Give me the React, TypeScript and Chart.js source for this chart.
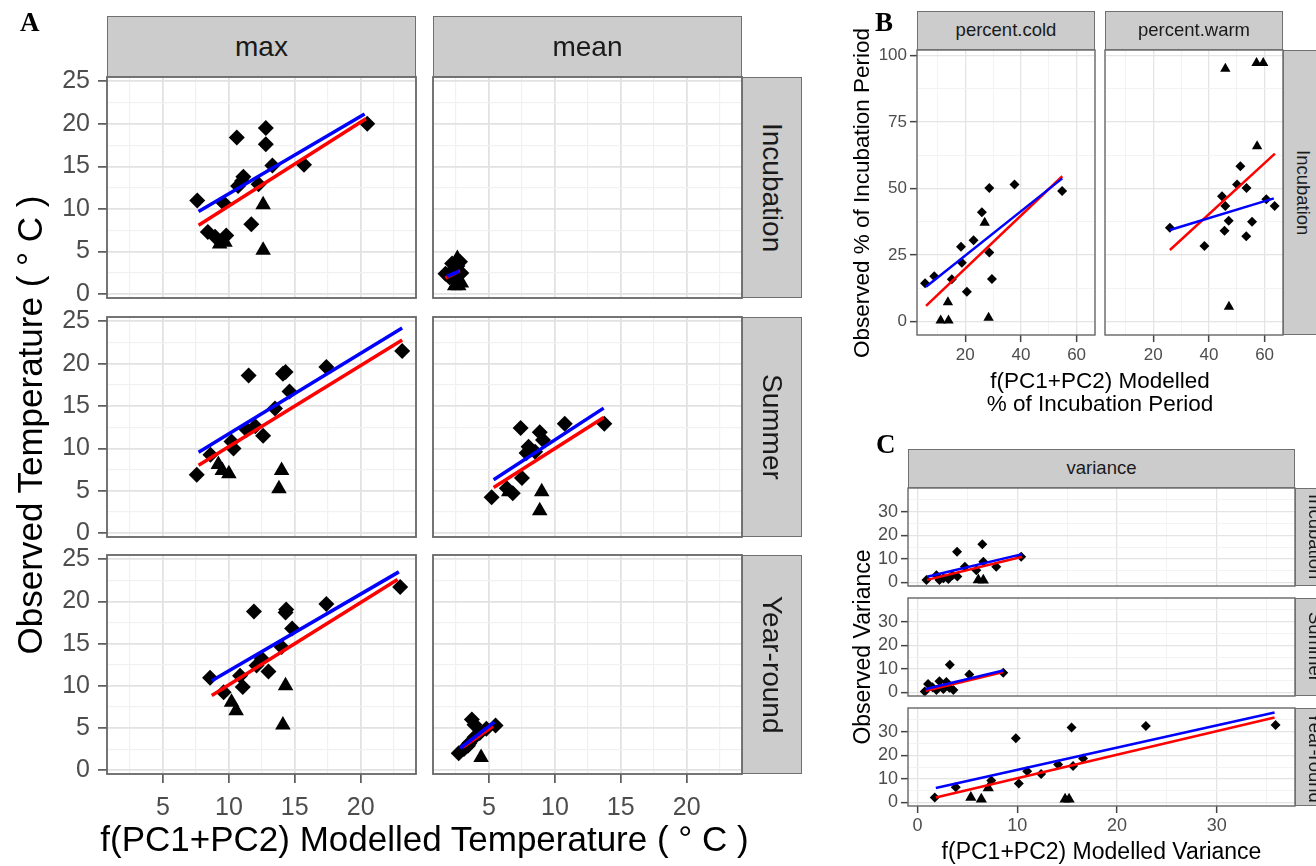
import React, { useEffect, useRef } from "react";
import { Chart, registerables } from "chart.js";

Chart.register(...registerables);

type XY = [number, number];
const SANS = '"Liberation Sans", Arial, Helvetica, sans-serif';
const SERIF = '"Liberation Serif", "Times New Roman", serif';

// ===== Panel A : temperature =====
const tempTicks = [0, 5, 10, 15, 20, 25];
const tempMinor = [2.5, 7.5, 12.5, 17.5, 22.5];
const modTempTicks = [5, 10, 15, 20];
const modTempMinor = [2.5, 7.5, 12.5, 17.5, 22.5];
const tempColumns = ["max", "mean"];
const tempRows = ["Incubation", "Summer", "Year-round"];

const maxIncDiamonds: XY[] = [[7.6, 11.0], [10.6, 18.4], [12.8, 19.5], [12.8, 17.6], [13.3, 15.1], [15.7, 15.2], [20.5, 20.0], [11.1, 13.8], [10.7, 12.7], [12.25, 12.9], [9.6, 10.7], [11.7, 8.2], [8.4, 7.3], [8.95, 6.75], [9.8, 6.9], [11.0, 13.3]];
const maxIncTriangles: XY[] = [[9.3, 5.9], [9.7, 6.1], [12.6, 10.5], [12.6, 5.15]];
const maxIncBlue: XY[] = [[7.7, 9.7], [20.3, 21.15]];
const maxIncRed: XY[] = [[7.7, 8.1], [20.4, 20.6]];

const meanIncDiamonds: XY[] = [[1.7, 2.4], [2.0, 2.0], [2.3, 2.9], [2.6, 3.3], [2.9, 2.5], [2.8, 3.8], [2.5, 2.2], [2.2, 3.6]];
const meanIncTriangles: XY[] = [[2.4, 1.0], [2.7, 1.0], [2.6, 4.2], [2.9, 1.3]];
const meanIncBlue: XY[] = [[1.8, 2.1], [2.75, 2.7]];
const meanIncRed: XY[] = [[1.7, 1.9], [2.8, 2.75]];

const maxSumDiamonds: XY[] = [[7.56, 6.9], [11.5, 18.6], [14.1, 18.8], [14.3, 19.0], [17.4, 19.6], [23.15, 21.5], [14.6, 16.7], [13.5, 14.7], [12.0, 12.6], [11.35, 12.2], [12.6, 11.5], [10.2, 10.8], [10.35, 10.0], [8.6, 9.25]];
const maxSumTriangles: XY[] = [[9.2, 8.1], [10.0, 7.0], [9.5, 7.4], [14.0, 7.4], [13.8, 5.25]];
const maxSumBlue: XY[] = [[7.7, 9.55], [23.15, 24.2]];
const maxSumRed: XY[] = [[7.7, 8.0], [23.15, 22.8]];

const meanSumDiamonds: XY[] = [[5.2, 4.25], [7.4, 12.4], [8.85, 11.9], [9.1, 11.0], [10.75, 12.9], [13.75, 12.9], [7.85, 9.45], [7.5, 6.5], [6.35, 5.3], [6.8, 4.7], [8.5, 9.6], [8.0, 10.2]];
const meanSumTriangles: XY[] = [[6.5, 4.9], [9.0, 4.9], [8.85, 2.65]];
const meanSumBlue: XY[] = [[5.35, 6.3], [13.7, 14.75]];
const meanSumRed: XY[] = [[5.35, 5.4], [13.7, 13.65]];

const maxYrDiamonds: XY[] = [[8.57, 10.95], [11.9, 18.8], [14.35, 19.05], [14.3, 18.7], [17.4, 19.7], [23.0, 21.7], [14.8, 16.8], [14.0, 14.6], [12.5, 13.2], [12.1, 12.4], [13.0, 11.7], [10.85, 11.2], [11.05, 9.85], [9.6, 9.25]];
const maxYrTriangles: XY[] = [[10.2, 8.05], [10.55, 7.05], [14.3, 10.0], [14.1, 5.35]];
const maxYrBlue: XY[] = [[8.7, 10.6], [22.9, 23.5]];
const maxYrRed: XY[] = [[8.7, 8.85], [22.8, 22.6]];

const meanYrDiamonds: XY[] = [[2.7, 2.0], [3.1, 2.5], [3.5, 3.2], [3.9, 3.9], [4.3, 4.4], [4.8, 4.9], [5.5, 5.3], [3.7, 6.0], [3.9, 5.4], [3.4, 2.9]];
const meanYrTriangles: XY[] = [[4.4, 1.5]];
const meanYrBlue: XY[] = [[2.8, 2.6], [5.4, 5.7]];
const meanYrRed: XY[] = [[3.0, 2.7], [5.3, 5.2]];

// ===== Panel B : % of incubation period =====
const pctTicks = [0, 25, 50, 75, 100];
const pctMinor = [12.5, 37.5, 62.5, 87.5];
const modPctTicks = [20, 40, 60];
const modPctMinor = [10, 30, 50];
const pctColumns = ["percent.cold", "percent.warm"];

const coldDiamonds: XY[] = [[5.6, 14.4], [8.9, 17.1], [15.2, 15.9], [18.8, 22.1], [18.5, 28.1], [23.0, 30.6], [20.6, 11.25], [26.0, 41.1], [28.65, 50.2], [28.65, 26.0], [29.6, 16.0], [37.7, 51.5], [54.8, 49.1]];
const coldTriangles: XY[] = [[27.0, 37.1], [13.8, 7.3], [11.2, 0.4], [14.0, 0.4], [28.4, 1.5]];
const coldBlue: XY[] = [[5.95, 13.1], [54.85, 53.8]];
const coldRed: XY[] = [[5.95, 5.9], [54.85, 54.6]];

const warmDiamonds: XY[] = [[26.0, 35.3], [38.4, 28.4], [44.7, 47.1], [45.9, 43.4], [45.6, 34.1], [47.1, 37.9], [50.1, 51.5], [51.3, 58.4], [53.5, 50.2], [53.4, 32.1], [55.5, 37.5], [60.6, 46.0], [63.6, 43.4]];
const warmTriangles: XY[] = [[45.9, 95.0], [57.1, 97.1], [59.5, 97.1], [57.3, 65.9], [47.2, 5.6]];
const warmBlue: XY[] = [[26.0, 34.4], [63.3, 46.3]];
const warmRed: XY[] = [[26.0, 26.9], [63.7, 63.1]];

// ===== Panel C : variance =====
const varTicks = [0, 10, 20, 30];
const varMinor = [5, 15, 25, 35];
const modVarTicks = [0, 10, 20, 30];
const modVarMinor = [5, 15, 25, 35];

const varIncDiamonds: XY[] = [[0.9, 1.0], [3.97, 13.0], [6.5, 16.2], [4.75, 6.6], [5.9, 5.2], [6.6, 8.8], [7.9, 6.6], [10.4, 10.9], [1.9, 3.1], [2.6, 1.8], [3.1, 1.5], [3.5, 3.0], [2.2, 1.0], [4.0, 2.5]];
const varIncTriangles: XY[] = [[6.1, 1.0], [6.6, 0.9]];
const varIncBlue: XY[] = [[0.96, 2.4], [10.5, 12.0]];
const varIncRed: XY[] = [[0.96, 1.1], [10.5, 10.9]];

const varSumDiamonds: XY[] = [[0.73, 0.4], [1.06, 3.6], [3.24, 11.7], [5.2, 7.6], [8.6, 8.3], [2.2, 4.7], [2.9, 4.4], [1.9, 1.0], [3.6, 1.0], [2.6, 1.5], [3.2, 2.0], [1.5, 2.2]];
const varSumTriangles: XY[] = [];
const varSumBlue: XY[] = [[0.83, 1.45], [8.6, 9.3]];
const varSumRed: XY[] = [[0.83, 0.7], [8.6, 8.6]];

const varYrDiamonds: XY[] = [[1.73, 2.1], [3.84, 6.4], [9.86, 27.2], [15.45, 31.7], [22.9, 32.4], [35.9, 32.8], [10.16, 8.0], [11.0, 13.2], [12.4, 12.1], [14.1, 16.1], [15.6, 15.4], [16.6, 18.6], [7.4, 9.3]];
const varYrTriangles: XY[] = [[5.35, 2.1], [6.4, 1.4], [7.1, 6.1], [14.8, 1.4], [15.2, 1.4]];
const varYrBlue: XY[] = [[1.84, 6.1], [35.8, 38.1]];
const varYrRed: XY[] = [[1.84, 2.1], [35.8, 36.0]];

// ---------------------------------------------------------------
type Style = {
  font: number; tickLen: number; xPad: number; yPad: number;
  dR: number; tR: number; lw: number;
  gMaj: string; gMajW: number; gMin: string; gMinW: number;
  frameW: number;
};
const styleA: Style = { font: 25, tickLen: 9, xPad: 10, yPad: 8, dR: 8, tR: 9, lw: 3.5, gMaj: "#e2e2e2", gMajW: 1.8, gMin: "#f1f1f1", gMinW: 1.2, frameW: 1.8 };
const styleB: Style = { font: 17, tickLen: 7, xPad: 3, yPad: 3, dR: 5, tR: 6, lw: 2.5, gMaj: "#e4e4e4", gMajW: 1.3, gMin: "#f2f2f2", gMinW: 0.9, frameW: 1.4 };
const styleC: Style = { font: 18, tickLen: 7, xPad: 2, yPad: 3, dR: 5, tR: 6.5, lw: 2.5, gMaj: "#e4e4e4", gMajW: 1.3, gMin: "#f2f2f2", gMinW: 0.9, frameW: 1.4 };

type FacetProps = {
  left: number; top: number; width: number; height: number;
  xr: [number, number]; yr: [number, number];
  xMaj: number[]; xMin: number[]; yMaj: number[]; yMin: number[];
  showX: boolean; showY: boolean; st: Style;
  diamonds: XY[]; triangles: XY[]; blue: XY[]; red: XY[];
};

const framePlugin = {
  id: "facetFrame",
  afterDatasetsDraw(chart: any, _args: any, opts: any) {
    const { ctx, chartArea: a } = chart;
    ctx.save();
    ctx.strokeStyle = opts.color || "#666";
    ctx.lineWidth = opts.width || 1.5;
    ctx.strokeRect(a.left, a.top, a.right - a.left, a.bottom - a.top);
    ctx.restore();
  },
};

const isIn = (arr: number[], v: any) => arr.some((m) => Math.abs(m - Number(v)) < 1e-9);

function Facet(p: FacetProps) {
  const ref = useRef<HTMLCanvasElement>(null);
  const padL = p.showY ? 90 : 6;
  const padB = p.showX ? 70 : 40;
  const padT = 40;
  const padR = 20;
  const cw = p.width + padL + padR;
  const ch = p.height + padT + padB;

  useEffect(() => {
    if (!ref.current) return;
    const st = p.st;
    const axis = (maj: number[], min: number[], range: [number, number], show: boolean, isX: boolean) => ({
      type: "linear",
      min: range[0],
      max: range[1],
      afterBuildTicks: (ax: any) => {
        ax.ticks = [...min, ...maj].sort((a, b) => a - b).map((v) => ({ value: v }));
      },
      afterFit: (ax: any) => {
        if (isX) ax.height = padB;
        else ax.width = padL;
      },
      border: { display: false },
      grid: {
        color: (c: any) => (isIn(maj, c.tick?.value) ? st.gMaj : st.gMin),
        lineWidth: (c: any) => (isIn(maj, c.tick?.value) ? st.gMajW : st.gMinW),
        drawTicks: show,
        tickLength: show ? st.tickLen : 0,
        tickColor: (c: any) => (isIn(maj, c.tick?.value) ? "#444444" : "rgba(0,0,0,0)"),
        tickWidth: 1.5,
      },
      ticks: {
        display: show,
        autoSkip: false,
        maxRotation: 0,
        minRotation: 0,
        padding: isX ? st.xPad : st.yPad,
        color: "#4d4d4d",
        font: { family: SANS, size: st.font },
        callback: (v: any) => (isIn(maj, v) ? String(v) : ""),
      },
    });
    const toPts = (a: XY[]) => a.map(([x, y]) => ({ x, y }));
    const chart = new Chart(ref.current, {
      type: "scatter",
      data: {
        datasets: [
          { label: "diamond", data: toPts(p.diamonds), pointStyle: "rectRot", pointRadius: st.dR, backgroundColor: "#000", borderColor: "#000", borderWidth: 0, order: 3, clip: false },
          { label: "triangle", data: toPts(p.triangles), pointStyle: "triangle", pointRadius: st.tR, backgroundColor: "#000", borderColor: "#000", borderWidth: 0, order: 3, clip: false },
          { label: "red", data: toPts(p.red), showLine: true, borderColor: "#ff0000", backgroundColor: "#ff0000", borderWidth: st.lw, pointRadius: 0, order: 1 },
          { label: "blue", data: toPts(p.blue), showLine: true, borderColor: "#0000ff", backgroundColor: "#0000ff", borderWidth: st.lw, pointRadius: 0, order: 0 },
        ],
      } as any,
      options: {
        animation: false,
        responsive: false,
        devicePixelRatio: 1,
        events: [],
        layout: { padding: { top: padT, right: padR, left: 0, bottom: 0 }, autoPadding: false },
        plugins: { legend: { display: false }, tooltip: { enabled: false }, facetFrame: { color: "#666666", width: st.frameW } } as any,
        scales: {
          x: axis(p.xMaj, p.xMin, p.xr, p.showX, true),
          y: axis(p.yMaj, p.yMin, p.yr, p.showY, false),
        } as any,
      },
      plugins: [framePlugin],
    });
    return () => chart.destroy();
  }, []);

  return (
    <canvas
      ref={ref}
      width={cw}
      height={ch}
      style={{ position: "absolute", left: p.left - padL, top: p.top - padT, width: cw, height: ch }}
    />
  );
}

function Strip({ l, t, w, h, text, size, vertical }: { l: number; t: number; w: number; h: number; text: string; size: number; vertical?: boolean }) {
  return (
    <div
      style={{
        position: "absolute", left: l, top: t, width: w, height: h,
        background: "#cccccc", border: "1.5px solid #707070", boxSizing: "border-box",
        display: "flex", alignItems: "center", justifyContent: "center",
        fontFamily: SANS, fontSize: size, color: "#1a1a1a", overflow: "hidden",
      }}
    >
      <span style={vertical ? { writingMode: "vertical-rl", whiteSpace: "nowrap", lineHeight: 1 } : { whiteSpace: "nowrap", lineHeight: 1 }}>{text}</span>
    </div>
  );
}

function Label({ cx, cy, size, text, rot = 0 }: { cx: number; cy: number; size: number; text: string; rot?: number }) {
  return (
    <div
      style={{
        position: "absolute", left: cx, top: cy,
        transform: `translate(-50%, -50%) rotate(${rot}deg)`,
        fontFamily: SANS, fontSize: size, lineHeight: 1, whiteSpace: "nowrap", color: "#000",
      }}
    >
      {text}
    </div>
  );
}

function Letter({ l, t, text }: { l: number; t: number; text: string }) {
  return (
    <div style={{ position: "absolute", left: l, top: t, fontFamily: SERIF, fontWeight: 700, fontSize: 27, lineHeight: 1, color: "#000" }}>{text}</div>
  );
}

// ---------------- layout ----------------
const aCols = [{ l: 107, w: 309 }, { l: 433, w: 309 }];
const aRowsPos = [{ t: 77, h: 221 }, { t: 317, h: 220 }, { t: 555, h: 219 }];
const aXR: [number, number] = [0.75, 24.2];
const aYR: [number, number] = [-0.45, 25.5];

const bCols = [{ l: 917, w: 178 }, { l: 1105, w: 178 }];
const bRow = { t: 50, h: 285 };
const bXR: [number, number] = [2.7, 66.6];
const bYR: [number, number] = [-5, 102];

const cCol = { l: 908, w: 387 };
const cRowsPos = [{ t: 488, h: 98 }, { t: 598, h: 98 }, { t: 708, h: 98 }];
const cXR: [number, number] = [-0.95, 37.85];
const cYR: [number, number] = [-1.5, 40];

const aData = [
  [
    { d: maxIncDiamonds, t: maxIncTriangles, b: maxIncBlue, r: maxIncRed },
    { d: meanIncDiamonds, t: meanIncTriangles, b: meanIncBlue, r: meanIncRed },
  ],
  [
    { d: maxSumDiamonds, t: maxSumTriangles, b: maxSumBlue, r: maxSumRed },
    { d: meanSumDiamonds, t: meanSumTriangles, b: meanSumBlue, r: meanSumRed },
  ],
  [
    { d: maxYrDiamonds, t: maxYrTriangles, b: maxYrBlue, r: maxYrRed },
    { d: meanYrDiamonds, t: meanYrTriangles, b: meanYrBlue, r: meanYrRed },
  ],
];
const bData = [
  { d: coldDiamonds, t: coldTriangles, b: coldBlue, r: coldRed },
  { d: warmDiamonds, t: warmTriangles, b: warmBlue, r: warmRed },
];
const cData = [
  { d: varIncDiamonds, t: varIncTriangles, b: varIncBlue, r: varIncRed },
  { d: varSumDiamonds, t: varSumTriangles, b: varSumBlue, r: varSumRed },
  { d: varYrDiamonds, t: varYrTriangles, b: varYrBlue, r: varYrRed },
];

export default function App() {
  return (
    <div style={{ position: "fixed", left: 0, top: 0, width: 1316, height: 866, overflow: "hidden", background: "#ffffff" }}>
      {/* Panel A facets */}
      {aRowsPos.map((row, ri) =>
        aCols.map((col, ci) => {
          const f = aData[ri][ci];
          return (
            <Facet
              key={`a${ri}${ci}`}
              left={col.l} top={row.t} width={col.w} height={row.h}
              xr={aXR} yr={aYR}
              xMaj={modTempTicks} xMin={modTempMinor} yMaj={tempTicks} yMin={tempMinor}
              showX={ri === 2} showY={ci === 0} st={styleA}
              diamonds={f.d} triangles={f.t} blue={f.b} red={f.r}
            />
          );
        })
      )}
      {/* Panel B facets */}
      {bCols.map((col, ci) => {
        const f = bData[ci];
        return (
          <Facet
            key={`b${ci}`}
            left={col.l} top={bRow.t} width={col.w} height={bRow.h}
            xr={bXR} yr={bYR}
            xMaj={modPctTicks} xMin={modPctMinor} yMaj={pctTicks} yMin={pctMinor}
            showX={true} showY={ci === 0} st={styleB}
            diamonds={f.d} triangles={f.t} blue={f.b} red={f.r}
          />
        );
      })}
      {/* Panel C facets */}
      {cRowsPos.map((row, ri) => {
        const f = cData[ri];
        return (
          <Facet
            key={`c${ri}`}
            left={cCol.l} top={row.t} width={cCol.w} height={row.h}
            xr={cXR} yr={cYR}
            xMaj={modVarTicks} xMin={modVarMinor} yMaj={varTicks} yMin={varMinor}
            showX={ri === 2} showY={true} st={styleC}
            diamonds={f.d} triangles={f.t} blue={f.b} red={f.r}
          />
        );
      })}

      {/* Strips A */}
      {aCols.map((col, ci) => (
        <Strip key={`sa${ci}`} l={col.l} t={16} w={col.w} h={61} text={tempColumns[ci]} size={28} />
      ))}
      {aRowsPos.map((row, ri) => (
        <Strip key={`sar${ri}`} l={742} t={row.t} w={60} h={row.h} text={tempRows[ri]} size={28} vertical />
      ))}
      {/* Strips B */}
      {bCols.map((col, ci) => (
        <Strip key={`sb${ci}`} l={col.l} t={11} w={col.w} h={39} text={pctColumns[ci]} size={18.5} />
      ))}
      <Strip l={1283} t={bRow.t} w={39} h={bRow.h} text="Incubation" size={18.5} vertical />
      {/* Strips C */}
      <Strip l={cCol.l} t={449} w={cCol.w} h={39} text="variance" size={18.5} />
      {cRowsPos.map((row, ri) => (
        <Strip key={`scr${ri}`} l={1295} t={row.t} w={39} h={row.h} text={tempRows[ri]} size={18.5} vertical />
      ))}

      {/* Axis titles */}
      <Label cx={29} cy={425} size={35} rot={-90} text="Observed Temperature ( ° C )" />
      <Label cx={424.5} cy={838} size={35} text="f(PC1+PC2) Modelled Temperature ( ° C )" />
      <Label cx={862} cy={192.5} size={22.5} rot={-90} text="Observed % of Incubation Period" />
      <Label cx={1100} cy={381} size={22.5} text="f(PC1+PC2) Modelled" />
      <Label cx={1100} cy={404} size={22.5} text="% of Incubation Period" />
      <Label cx={862} cy={647} size={23} rot={-90} text="Observed Variance" />
      <Label cx={1101.5} cy={851} size={23} text="f(PC1+PC2) Modelled Variance" />

      <Letter l={20} t={9} text="A" />
      <Letter l={875} t={9} text="B" />
      <Letter l={876} t={431} text="C" />
    </div>
  );
}
